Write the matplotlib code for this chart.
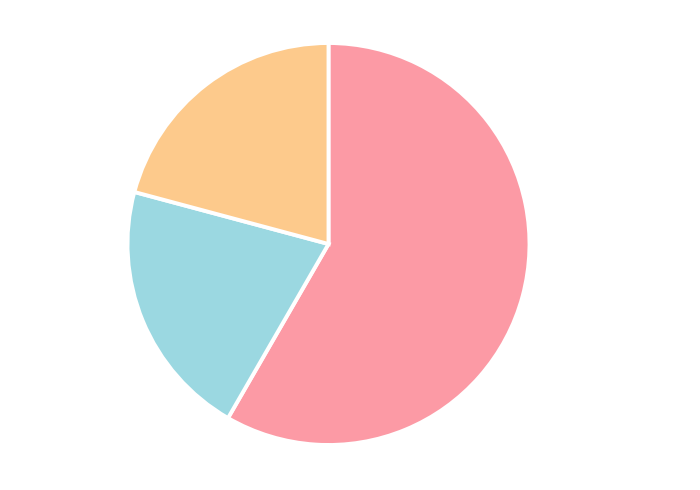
import matplotlib.pyplot as plt

labels = ['A', 'B', 'C']
values = [14, 5, 5]
colors = ['#fc9aa5', '#9bd8e1', '#fdca8c']

fig = plt.figure(figsize=(7, 4.9), dpi=100)
ax = fig.add_axes([127.5 / 700, 45 / 490, 402 / 700, 402 / 490])

ax.pie(values, colors=colors, startangle=90, counterclock=False,
       wedgeprops=dict(edgecolor='white', linewidth=2.8))
ax.set_xlim(-1, 1)
ax.set_ylim(-1, 1)
ax.set_aspect('equal')

fig.savefig('out.png', dpi=100, facecolor='white')
